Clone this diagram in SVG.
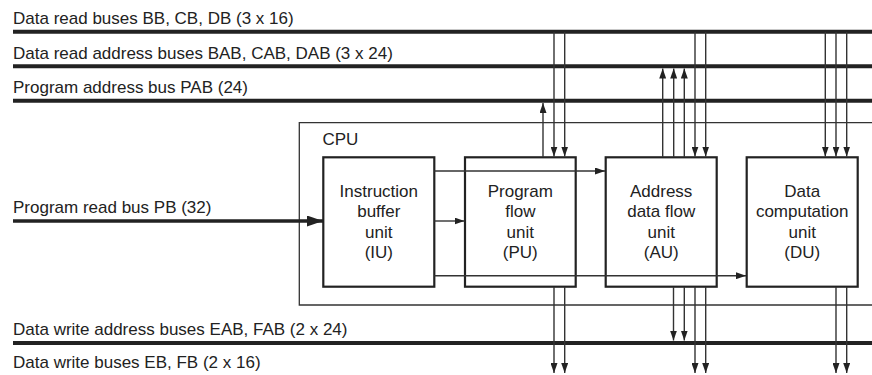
<svg xmlns="http://www.w3.org/2000/svg" width="872" height="375" viewBox="0 0 872 375">
<style>
text{font-family:"Liberation Sans",Arial,Helvetica,sans-serif;font-size:17px;fill:#222}
.u{text-anchor:middle}
.bus{stroke:#222;stroke-width:4;fill:none}
.box{stroke:#222;stroke-width:2.2;fill:none}
.cpu{stroke:#333;stroke-width:1.3;fill:none}
.wa{stroke:#333;stroke-width:1.4;fill:none;marker-end:url(#ah)}
</style>
<defs>
<marker id="ah" markerUnits="userSpaceOnUse" markerWidth="10" markerHeight="7" refX="10" refY="3.5" orient="auto">
<path d="M0,0 L10,3.5 L0,7 z" fill="#222"/>
</marker>
<marker id="ahb" markerUnits="userSpaceOnUse" markerWidth="16" markerHeight="11" refX="16" refY="5.5" orient="auto">
<path d="M0,0 L16,5.5 L0,11 z" fill="#222"/>
</marker>
</defs>
<rect width="872" height="375" fill="#fff"/>
<g id="bus-data-read">
<text x="13" y="24">Data read buses BB, CB, DB (3 x 16)</text>
<line class="bus" x1="13" y1="31.8" x2="872" y2="31.8"/>
</g>
<g id="bus-data-read-address">
<text x="13" y="59">Data read address buses BAB, CAB, DAB (3 x 24)</text>
<line class="bus" x1="13" y1="66.3" x2="872" y2="66.3"/>
</g>
<g id="bus-program-address">
<text x="13" y="93">Program address bus PAB (24)</text>
<line class="bus" x1="13" y1="100.7" x2="872" y2="100.7"/>
</g>
<g id="bus-program-read">
<text x="13" y="213">Program read bus PB (32)</text>
</g>
<g id="bus-data-write-address">
<text x="13" y="335">Data write address buses EAB, FAB (2 x 24)</text>
<line class="bus" x1="13" y1="343" x2="872" y2="343"/>
</g>
<g id="bus-data-write">
<text x="13" y="368">Data write buses EB, FB (2 x 16)</text>
</g>
<g id="cpu">
<path class="cpu" d="M873,122.7 H299.3 V305 H873"/>
<text x="322.5" y="145">CPU</text>
</g>
<g id="iu">
<rect class="box" x="323.3" y="157.3" width="111" height="129.4"/>
<text class="u" x="378.8" y="196.5">Instruction</text>
<text class="u" x="378.8" y="217">buffer</text>
<text class="u" x="378.8" y="237.5">unit</text>
<text class="u" x="378.8" y="258">(IU)</text>
</g>
<g id="pu">
<rect class="box" x="465" y="157.3" width="110.7" height="129.4"/>
<text class="u" x="520.3" y="196.5">Program</text>
<text class="u" x="520.3" y="217">flow</text>
<text class="u" x="520.3" y="237.5">unit</text>
<text class="u" x="520.3" y="258">(PU)</text>
</g>
<g id="au">
<rect class="box" x="605.7" y="157.3" width="111" height="129.4"/>
<text class="u" x="661.2" y="196.5">Address</text>
<text class="u" x="661.2" y="217">data flow</text>
<text class="u" x="661.2" y="237.5">unit</text>
<text class="u" x="661.2" y="258">(AU)</text>
</g>
<g id="du">
<rect class="box" x="746.7" y="157.3" width="111" height="129.4"/>
<text class="u" x="802.2" y="196.5">Data</text>
<text class="u" x="802.2" y="217">computation</text>
<text class="u" x="802.2" y="237.5">unit</text>
<text class="u" x="802.2" y="258">(DU)</text>
</g>
<g id="connectors">
<line x1="13" y1="221" x2="323" y2="221" stroke="#222" stroke-width="3.5" marker-end="url(#ahb)"/>
<line class="wa" x1="434.3" y1="171" x2="605" y2="171"/>
<line class="wa" x1="434.3" y1="221" x2="464.5" y2="221"/>
<line class="wa" x1="434.3" y1="275.7" x2="746" y2="275.7"/>
<line class="wa" x1="543" y1="157" x2="543" y2="103"/>
<line class="wa" x1="554" y1="32" x2="554" y2="156.5"/>
<line class="wa" x1="564.7" y1="32" x2="564.7" y2="156.5"/>
<line class="wa" x1="662.7" y1="157" x2="662.7" y2="68.5"/>
<line class="wa" x1="673.7" y1="157" x2="673.7" y2="68.5"/>
<line class="wa" x1="684.3" y1="157" x2="684.3" y2="68.5"/>
<line class="wa" x1="695" y1="32" x2="695" y2="156.5"/>
<line class="wa" x1="705.7" y1="32" x2="705.7" y2="156.5"/>
<line class="wa" x1="825.3" y1="32" x2="825.3" y2="156.5"/>
<line class="wa" x1="836" y1="32" x2="836" y2="156.5"/>
<line class="wa" x1="846.7" y1="32" x2="846.7" y2="156.5"/>
<line class="wa" x1="554" y1="287" x2="554" y2="373"/>
<line class="wa" x1="564.7" y1="287" x2="564.7" y2="373"/>
<line class="wa" x1="673.5" y1="287" x2="673.5" y2="340.5"/>
<line class="wa" x1="684.3" y1="287" x2="684.3" y2="340.5"/>
<line class="wa" x1="695" y1="287" x2="695" y2="373"/>
<line class="wa" x1="705.7" y1="287" x2="705.7" y2="373"/>
<line class="wa" x1="836" y1="287" x2="836" y2="373"/>
<line class="wa" x1="846.7" y1="287" x2="846.7" y2="373"/>
</g>
</svg>
